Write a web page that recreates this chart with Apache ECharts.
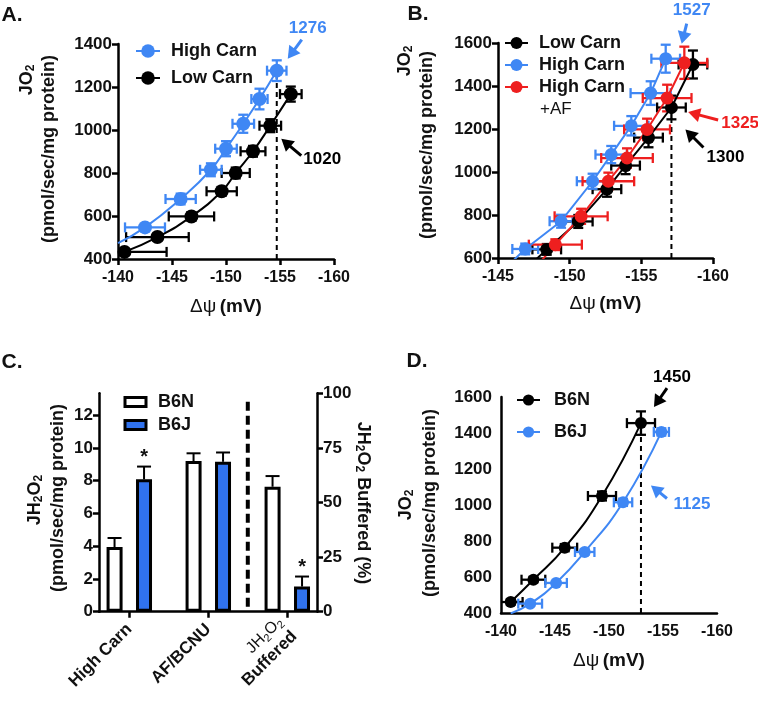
<!DOCTYPE html>
<html><head><meta charset="utf-8">
<script src="https://cdn.jsdelivr.net/npm/echarts@6/dist/echarts.min.js"></script>
<style>html,body{margin:0;padding:0;background:#fff}#c{width:758px;height:703px}</style>
</head><body><div id="c"></div>
<script>
// ---------- Panel A data ----------
const aXRange = [-160, -140];
const aYRange = [400, 1400];
const aHighX = [-142.5, -145.8, -148.6, -150.0, -151.6, -153.1, -154.7];
const aHighY = [547, 679, 815, 913, 1029, 1144, 1276];
const aHighXErr = [1.85, 1.4, 1.0, 1.0, 1.0, 0.75, 0.9];
const aHighYErr = [15, 25, 30, 35, 42, 48, 48];
const aHighStart = [-140, 474];
const aLowX = [-140.6, -143.65, -146.8, -149.6, -150.9, -152.5, -154.1, -156.0];
const aLowY = [433, 502, 598, 715, 800, 901, 1020, 1167];
const aLowXErr = [3.9, 2.9, 2.1, 1.4, 1.3, 1.15, 1.0, 1.0];
const aLowYErr = [10, 15, 20, 20, 25, 25, 30, 35];
const aRefX = -154.7, aRefTop = 1276;

// ---------- Panel B data ----------
const bXRange = [-160, -145];
const bYRange = [600, 1600];
const bLowX = [-148.4, -150.6, -152.6, -153.9, -155.5, -157.1, -158.6];
const bLowY = [640, 770, 920, 1030, 1160, 1300, 1500];
const bLowXErr = [1.0, 1.0, 1.0, 1.0, 1.0, 1.0, 1.0];
const bLowYErr = [25, 30, 35, 40, 45, 55, 65];
const bLowStart = [-147.6, 590];
const bHighX = [-146.9, -149.4, -151.6, -152.9, -154.3, -155.65, -156.7];
const bHighY = [642, 771, 957, 1081, 1215, 1367, 1527];
const bHighXErr = [0.9, 0.8, 1.1, 1.1, 1.2, 1.4, 1.0];
const bHighYErr = [25, 30, 35, 40, 45, 55, 65];
const bHighStart = [-146.0, 584];
const bAfX = [-149.0, -150.8, -152.7, -154.0, -155.4, -156.8, -158.0];
const bAfY = [662, 794, 957, 1065, 1198, 1344, 1508];
const bAfXErr = [1.85, 1.85, 1.8, 1.8, 1.6, 1.7, 1.6];
const bAfYErr = [25, 35, 40, 45, 50, 62, 75];
const bAfStart = [-148.0, 585];
const bRefX = -157.1, bRefTop = 1300;

// ---------- Panel C data ----------
const cCategories = ['High Carn', 'AF/BCNU', 'JH2O2 Buffered'];
const cCatPos = [0, 1, 2];
const cXExtent = [-0.3835, 2.376];
const cLeftMax = 40 / 3;
const cLeftTicks = [0, 2, 4, 6, 8, 10, 12];
const cRightRange = [0, 100];
const cB6N = [3.95, 9.2];
const cB6NErr = [0.55, 0.47];
const cB6J = [8.08, 9.15];
const cB6JErr = [0.78, 0.57];
const cSigB6J = [true, false];
const cBufB6N = [57.2];
const cBufB6NErr = [4.9];
const cBufB6J = [11.5];
const cBufB6JErr = [4.6];
const cSigBufB6J = [true];
const cDividerX = 1.5, cDividerRange = [0.3, 12.95];

// ---------- Panel D data ----------
const dXRange = [-160, -140];
const dYRange = [400, 1600];
const dB6NX = [-140.9, -143.0, -145.9, -149.35, -152.96];
const dB6NY = [461, 585, 763, 1050, 1455];
const dB6NXErr = [1.1, 1.1, 1.15, 1.3, 1.3];
const dB6NYErr = [15, 15, 20, 25, 65];
const dB6JX = [-142.7, -145.1, -147.75, -151.3, -154.85];
const dB6JY = [452, 567, 739, 1015, 1406];
const dB6JXErr = [1.1, 1.0, 0.9, 0.85, 0.7];
const dB6JYErr = [10, 10, 15, 20, 20];
const dB6JStart = [-140.9, 398];
const dRefX = -152.96, dRefTop = 1455;

// ---------- styling ----------
const F = '"Liberation Sans", Arial, Helvetica, sans-serif';
const BLUE = '#3f87f4', RED = '#ee1f1f', BLK = '#000', BARBLUE = '#3072ee', TXT = '#111';

const chart = echarts.init(document.getElementById('c'), null, {renderer: 'canvas'});

function axLine() { return {show: true, onZero: false, lineStyle: {color: BLK, width: 2.5}}; }
function axTick(show) { return {show: show, length: 6, lineStyle: {color: BLK, width: 2.5}}; }
function lbl(size, margin) { return {color: TXT, fontFamily: F, fontWeight: 'bold', fontSize: size, margin: margin, formatter: v => String(v)}; }
const psiName = '{g|Δψ} {b|(mV)}';
const psiRich = {g: {fontFamily: F, fontSize: 19, color: TXT}, b: {fontFamily: F, fontSize: 19, fontWeight: 'bold', color: TXT}};

function xVal(grid, range, ticks, gap) {
  return {type: 'value', gridIndex: grid, min: range[0], max: range[1], interval: 5, inverse: true,
    axisLine: axLine(), axisTick: axTick(ticks), axisLabel: lbl(16, 11), splitLine: {show: false},
    name: psiName, nameLocation: 'middle', nameGap: gap, nameTextStyle: {rich: psiRich}};
}
function yVal(grid, range, ticks, margin) {
  return {type: 'value', gridIndex: grid, min: range[0], max: range[1], interval: 200,
    axisLine: axLine(), axisTick: axTick(ticks), axisLabel: lbl(17, margin), splitLine: {show: false}};
}

function lineSeries(name, g, xs, ys, start, color, size, smooth) {
  const data = xs.map((x, i) => [x, ys[i]]);
  if (start) data.unshift({value: start, symbol: 'none'});
  return {type: 'line', name: name, xAxisIndex: g, yAxisIndex: g, data: data, symbol: 'circle',
    symbolSize: size, smooth: smooth, clip: true, itemStyle: {color: color},
    lineStyle: {color: color, width: 2}, emphasis: {disabled: true}, z: 3};
}
function errSeries(name, g, xs, ys, xe, ye, color, cap) {
  return {type: 'custom', name: name, xAxisIndex: g, yAxisIndex: g, clip: true, z: 2, silent: true,
    data: xs.map((x, i) => [x, ys[i], xe[i], ye[i]]),
    renderItem: function (params, api) {
      const x = api.value(0), y = api.value(1), ex = api.value(2), ey = api.value(3);
      const l = api.coord([x - ex, y]), r = api.coord([x + ex, y]);
      const t = api.coord([x, y + ey]), b = api.coord([x, y - ey]);
      const st = {stroke: color, lineWidth: 2.3, fill: null};
      const L = (x1, y1, x2, y2) => ({type: 'line', shape: {x1, y1, x2, y2}, style: st});
      return {type: 'group', children: [
        L(l[0], l[1], r[0], r[1]), L(l[0], l[1] - cap, l[0], l[1] + cap), L(r[0], r[1] - cap, r[0], r[1] + cap),
        L(t[0], t[1], b[0], b[1]), L(t[0] - cap, t[1], t[0] + cap, t[1]), L(b[0] - cap, b[1], b[0] + cap, b[1])
      ]};
    }};
}
function refLine(name, g, x, y0, y1, width, dash) {
  return {type: 'line', name: name, xAxisIndex: g, yAxisIndex: g, data: [[x, y0], [x, y1]],
    symbol: 'none', lineStyle: {color: BLK, width: width, type: dash}, z: 1, silent: true};
}
function barSeries(name, g, xs, vals, fill) {
  return {type: 'bar', name: name, xAxisIndex: g, yAxisIndex: g, data: xs.map((x, i) => [x, vals[i]]),
    barWidth: 16, barGap: '84%', itemStyle: {color: fill, borderColor: BLK, borderWidth: 3}, z: 2, silent: true};
}
function barErr(name, g, xs, vals, errs, sig, dx) {
  return {type: 'custom', name: name, xAxisIndex: g, yAxisIndex: g, z: 3, silent: true,
    data: xs.map((x, i) => [x, vals[i], errs[i], sig[i] ? 1 : 0]),
    renderItem: function (params, api) {
      const x = api.value(0), v = api.value(1), e = api.value(2), s = api.value(3);
      const p = api.coord([x, v]), q = api.coord([x, v + e]);
      const X = p[0] + dx;
      const st = {stroke: BLK, lineWidth: 2};
      const ch = [
        {type: 'line', shape: {x1: X, y1: p[1], x2: X, y2: q[1]}, style: st},
        {type: 'line', shape: {x1: X - 7, y1: q[1], x2: X + 7, y2: q[1]}, style: st}
      ];
      if (s) ch.push({type: 'text', x: X, y: q[1] - 9, style: {text: '*', fontFamily: F, fontWeight: 'bold',
        fontSize: 20, fill: TXT, align: 'center', verticalAlign: 'middle', textAlign: 'center', textVerticalAlign: 'middle'}});
      return {type: 'group', children: ch};
    }};
}
const legendFmt = n => n.split('|')[1];
const legText = (pad) => ({fontFamily: F, fontSize: 18, fontWeight: 'bold', color: TXT, padding: [0, 0, 0, pad]});

const option = {
  animation: false,
  backgroundColor: '#fff',
  textStyle: {fontFamily: F},
  grid: [
    {left: 118, top: 44, width: 216, height: 215, containLabel: false, outerBoundsMode: 'none'},
    {left: 498, top: 43, width: 215, height: 215, containLabel: false, outerBoundsMode: 'none'},
    {left: 501, top: 397, width: 216, height: 216, containLabel: false, outerBoundsMode: 'none'},
    {left: 99, top: 393.3, width: 218, height: 218.4, containLabel: false, outerBoundsMode: 'none'},
    {left: 99, top: 393.3, width: 218, height: 218.4, containLabel: false, outerBoundsMode: 'none'}
  ],
  xAxis: [
    xVal(0, aXRange, true, 38),
    xVal(1, bXRange, true, 36),
    xVal(2, dXRange, false, 38),
    {type: 'value', gridIndex: 3, min: cXExtent[0], max: cXExtent[1],
      axisLine: axLine(), axisTick: Object.assign(axTick(true), {customValues: cCatPos}),
      axisLabel: {customValues: cCatPos, rotate: 45, margin: 15, color: TXT,
        formatter: function (v) {
          const i = Math.round(v);
          if (i === 2) return '{n|JH}{s|2}{n|O}{s|2}\n{b|Buffered}';
          return '{b|' + cCategories[i] + '}';
        },
        rich: {
          b: {fontFamily: F, fontSize: 17, fontWeight: 'bold', color: TXT, lineHeight: 20},
          n: {fontFamily: F, fontSize: 16, color: TXT, lineHeight: 20},
          s: {fontFamily: F, fontSize: 11, color: TXT, lineHeight: 8, verticalAlign: 'bottom'}
        }},
      splitLine: {show: false}},
    {type: 'value', gridIndex: 4, min: cXExtent[0], max: cXExtent[1], show: false}
  ],
  yAxis: [
    yVal(0, aYRange, true, 6),
    yVal(1, bYRange, true, 6),
    yVal(2, dYRange, false, 9),
    {type: 'value', gridIndex: 3, min: 0, max: cLeftMax,
      axisLine: axLine(), axisTick: Object.assign(axTick(true), {customValues: cLeftTicks}),
      axisLabel: Object.assign(lbl(17, 6), {customValues: cLeftTicks}), splitLine: {show: false}},
    {type: 'value', gridIndex: 4, min: cRightRange[0], max: cRightRange[1], interval: 25, position: 'right',
      axisLine: axLine(), axisTick: axTick(true), axisLabel: lbl(17, 6), splitLine: {show: false}}
  ],
  legend: [
    {left: 135, top: 42, orient: 'vertical', padding: 0, itemWidth: 24, itemHeight: 17, itemGap: 9,
      selectedMode: false, data: ['A|High Carn', 'A|Low Carn'], formatter: legendFmt, textStyle: legText(6)},
    {left: 504, top: 34, orient: 'vertical', padding: 0, itemWidth: 23, itemHeight: 15, itemGap: 4,
      selectedMode: false, data: ['B|Low Carn', 'B|High Carn', 'B|High Carn '], formatter: legendFmt, textStyle: legText(6)},
    {left: 516, top: 391, orient: 'vertical', padding: 0, itemWidth: 23, itemHeight: 14, itemGap: 14,
      selectedMode: false, data: ['D|B6N', 'D|B6J'], formatter: legendFmt, textStyle: legText(9)},
    {left: 123.5, top: 393, orient: 'vertical', padding: 0, itemWidth: 21, itemHeight: 9, itemGap: 5,
      icon: 'rect', selectedMode: false, data: ['C|B6N', 'C|B6J'], formatter: legendFmt,
      itemStyle: {borderWidth: 3, borderColor: BLK}, textStyle: legText(7)}
  ],
  series: []
};

const S = option.series;
// Panel A
S.push(refLine('A ref', 0, aRefX, aYRange[0], aRefTop, 2, [5, 4]));
S.push(errSeries('A low err', 0, aLowX, aLowY, aLowXErr, aLowYErr, BLK, 5));
S.push(lineSeries('A|Low Carn', 0, aLowX, aLowY, null, BLK, 14, true));
S.push(errSeries('A high err', 0, aHighX, aHighY, aHighXErr, aHighYErr, BLUE, 5));
S.push(lineSeries('A|High Carn', 0, aHighX, aHighY, aHighStart, BLUE, 14, true));
// Panel B
S.push(refLine('B ref', 1, bRefX, bYRange[0], bRefTop, 2, [5, 4]));
S.push(errSeries('B low err', 1, bLowX, bLowY, bLowXErr, bLowYErr, BLK, 5));
S.push(lineSeries('B|Low Carn', 1, bLowX, bLowY, bLowStart, BLK, 13, false));
S.push(errSeries('B high err', 1, bHighX, bHighY, bHighXErr, bHighYErr, BLUE, 5));
S.push(lineSeries('B|High Carn', 1, bHighX, bHighY, bHighStart, BLUE, 13, false));
S.push(errSeries('B af err', 1, bAfX, bAfY, bAfXErr, bAfYErr, RED, 5));
S.push(lineSeries('B|High Carn ', 1, bAfX, bAfY, bAfStart, RED, 13, false));
// Panel D
S.push(refLine('D ref', 2, dRefX, dYRange[0], dRefTop, 2, [5, 4]));
S.push(errSeries('D b6n err', 2, dB6NX, dB6NY, dB6NXErr, dB6NYErr, BLK, 5));
S.push(lineSeries('D|B6N', 2, dB6NX, dB6NY, null, BLK, 12, true));
S.push(errSeries('D b6j err', 2, dB6JX, dB6JY, dB6JXErr, dB6JYErr, BLUE, 5));
S.push(lineSeries('D|B6J', 2, dB6JX, dB6JY, dB6JStart, BLUE, 12, true));
// Panel C
S.push(barSeries('C|B6N', 3, cCatPos.slice(0, 2), cB6N, '#fff'));
S.push(barSeries('C|B6J', 3, cCatPos.slice(0, 2), cB6J, BARBLUE));
S.push(barErr('C b6n err', 3, cCatPos.slice(0, 2), cB6N, cB6NErr, [false, false], -14.75));
S.push(barErr('C b6j err', 3, cCatPos.slice(0, 2), cB6J, cB6JErr, cSigB6J, 14.75));
S.push(barSeries('C|B6N %', 4, cCatPos.slice(2), cBufB6N, '#fff'));
S.push(barSeries('C|B6J %', 4, cCatPos.slice(2), cBufB6J, BARBLUE));
S.push(barErr('C b6n % err', 4, cCatPos.slice(2), cBufB6N, cBufB6NErr, [false], -14.75));
S.push(barErr('C b6j % err', 4, cCatPos.slice(2), cBufB6J, cBufB6JErr, cSigBufB6J, 14.75));
S.push({type: 'line', name: 'C divider', xAxisIndex: 3, yAxisIndex: 3,
  data: [[cDividerX, cDividerRange[0]], [cDividerX, cDividerRange[1]]], symbol: 'none',
  lineStyle: {color: BLK, width: 4, type: [9, 5]}, silent: true, z: 1});

chart.setOption(option);

// ---------- graphics: titles, letters, annotations ----------
const tRich = {
  b: {fontFamily: F, fontSize: 18, fontWeight: 'bold', fill: TXT, color: TXT, lineHeight: 20},
  s: {fontFamily: F, fontSize: 12, fontWeight: 'bold', fill: TXT, color: TXT, lineHeight: 8, verticalAlign: 'bottom'}
};
function rText(x, y, text, rot) {
  return {type: 'text', x: x, y: y, rotation: rot, silent: true,
    style: {text: text, rich: tRich, align: 'center', verticalAlign: 'middle', textAlign: 'center', textVerticalAlign: 'middle'}};
}
function pText(x, y, text, size, color, weight, align) {
  return {type: 'text', x: x, y: y, silent: true,
    style: {text: text, fontFamily: F, fontSize: size, fontWeight: weight || 'bold', fill: color,
      align: align || 'center', verticalAlign: 'middle', textAlign: align || 'center', textVerticalAlign: 'middle'}};
}
const R = Math.PI / 2;
const G = [
  pText(12, 15, 'A.', 21, TXT, 'bold'),
  pText(418, 14, 'B.', 21, TXT, 'bold'),
  pText(12, 362, 'C.', 21, TXT, 'bold'),
  pText(417, 361, 'D.', 21, TXT, 'bold'),
  rText(27, 80, '{b|JO}{s|2}', R),
  rText(49, 149, '{b|(pmol/sec/mg protein)}', R),
  rText(405, 61, '{b|JO}{s|2}', R),
  rText(427, 145, '{b|(pmol/sec/mg protein)}', R),
  rText(406, 505, '{b|JO}{s|2}', R),
  rText(430, 503, '{b|(pmol/sec/mg protein)}', R),
  rText(35, 500, '{b|JH}{s|2}{b|O}{s|2}', R),
  rText(58, 498, '{b|(pmol/sec/mg protein)}', R),
  rText(363, 503, '{b|JH}{s|2}{b|O}{s|2}{b| Buffered (%)}', -R),
  pText(540, 109, '+AF', 17, TXT, 'normal', 'left')
];
function arrowEls(tail, tip, color) {
  const dx = tip[0] - tail[0], dy = tip[1] - tail[1], L = Math.hypot(dx, dy);
  const ux = dx / L, uy = dy / L, hl = 12, hw = 7;
  const bx = tip[0] - ux * hl, by = tip[1] - uy * hl;
  return [
    {type: 'line', silent: true, shape: {x1: tail[0], y1: tail[1], x2: bx + ux, y2: by + uy}, style: {stroke: color, lineWidth: 3}},
    {type: 'polygon', silent: true, shape: {points: [[tip[0], tip[1]], [bx - uy * hw, by + ux * hw], [bx + uy * hw, by - ux * hw]]}, style: {fill: color}}
  ];
}
function note(grid, target, text, color, tail, tip, lab) {
  const p = chart.convertToPixel({gridIndex: grid}, target);
  const els = arrowEls([p[0] + tail[0], p[1] + tail[1]], [p[0] + tip[0], p[1] + tip[1]], color);
  els.push(pText(p[0] + lab[0], p[1] + lab[1], text, 17, color, 'bold'));
  return els;
}
G.push(...note(0, [aHighX[6], aHighY[6]], '1276', BLUE, [25, -31], [11, -12], [31, -42]));
G.push(...note(0, [aLowX[6], aLowY[6]], '1020', BLK, [31, 30], [11, 13], [52, 34]));
G.push(...note(1, [bHighX[6], bHighY[6]], '1527', BLUE, [21, -35], [16, -15], [26, -48]));
G.push(...note(1, [bAfX[5], bAfY[5]], '1325', RED, [51, 22], [21, 14], [73, 25]));
G.push(...note(1, [bLowX[5], bLowY[5]], '1300', BLK, [32, 40], [14, 22], [54, 50]));
G.push(...note(2, [dB6NX[4], dB6NY[4]], '1450', BLK, [26, -35], [13, -16], [31, -46]));
G.push(...note(2, [dRefX, 1125], '1125', BLUE, [26, 16], [10, 3], [51, 22]));

chart.setOption({graphic: G});
</script>
</body></html>
